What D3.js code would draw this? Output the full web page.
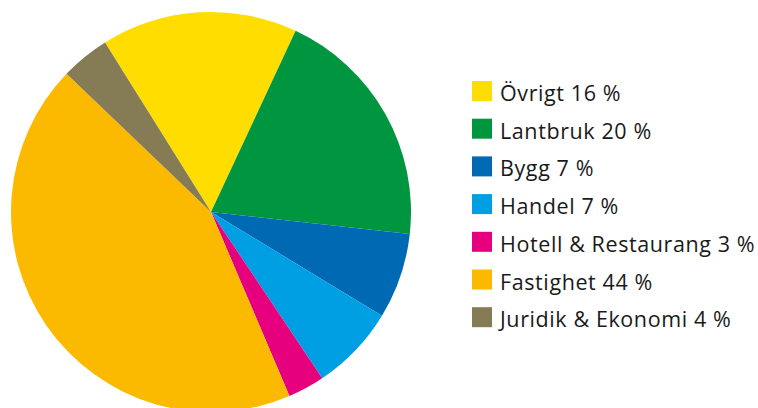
<!DOCTYPE html>
<html><head><meta charset="utf-8">
<script src="https://cdn.jsdelivr.net/npm/d3@7"></script>
<style>body{margin:0;background:#fff}svg{display:block}</style>
</head><body><svg id="c" width="758" height="408"></svg>
<script>
const categories = ["Övrigt", "Lantbruk", "Bygg", "Handel", "Hotell & Restaurang", "Fastighet", "Juridik & Ekonomi"];
const values = [16, 20, 7, 7, 3, 44, 4];
const colors = ["#FFDD00", "#009640", "#0069B4", "#009FE3", "#E6007E", "#FBBA00", "#857B55"];

const svg = d3.select("#c");
const cx = 211, cy = 212, r = 200;
const data = categories.map((c, i) => ({cat: c, value: values[i], color: colors[i]}));
const pie = d3.pie().sort(null).value(d => d.value)
  .startAngle(-32 * Math.PI / 180).endAngle((360 - 32) * Math.PI / 180);
const arc = d3.arc().innerRadius(0).outerRadius(r);
svg.append("g").attr("transform", `translate(${cx},${cy})`)
  .selectAll("path").data(pie(data)).join("path")
  .attr("d", arc).attr("fill", d => d.data.color);

const y = d3.scaleBand().domain(categories).range([81, 81 + 37.7 * categories.length]).paddingInner(0);
const lg = svg.append("g");
const rows = lg.selectAll("g").data(data).join("g")
  .attr("transform", d => `translate(472,${y(d.cat)})`);
rows.append("rect").attr("width", 20).attr("height", 20).attr("fill", d => d.color);
rows.append("text").attr("x", 28).attr("y", 20)
  .attr("font-family", "'Open Sans', sans-serif").attr("font-size", 21.5)
  .attr("letter-spacing", 0.6)
  .attr("fill", "#1a1a1a")
  .text(d => `${d.cat} ${d.value} %`);
</script></body></html>
